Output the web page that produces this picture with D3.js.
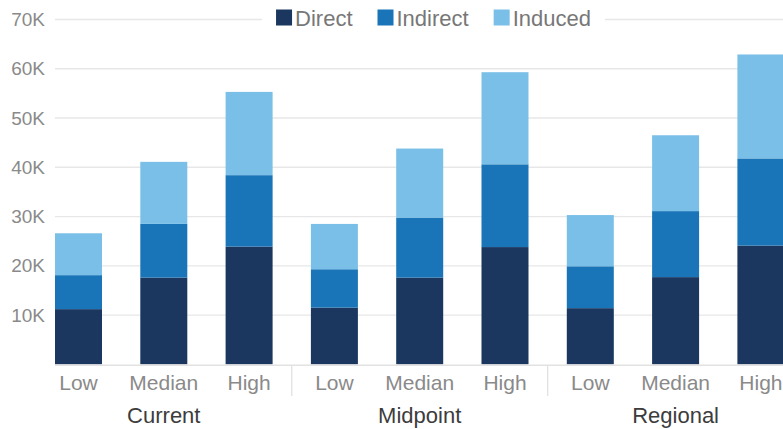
<!DOCTYPE html>
<html>
<head>
<meta charset="utf-8">
<script src="https://cdn.jsdelivr.net/npm/d3@7"></script>
<style>
  html, body { margin: 0; padding: 0; background: #fff; }
  svg { display: block; font-family: "Liberation Sans", Arial, Helvetica, sans-serif; }
</style>
</head>
<body>
<svg id="chart" width="783" height="429"></svg>
<script>
// Scenario groups and the three estimate levels within each
const groups = ["Current", "Midpoint", "Regional"];
const levels = ["Low", "Median", "High"];

// Impact components, one value per bar (Current L/M/H, Midpoint L/M/H, Regional L/M/H)
const direct   = [11200, 17600, 23900, 11500, 17600, 23800, 11400, 17700, 24100];
const indirect = [ 6900, 10900, 14500,  7800, 12200, 16800,  8500, 13400, 17700];
const induced  = [ 8500, 12600, 16900,  9200, 14000, 18700, 10400, 15400, 21100];

const seriesNames = ["Direct", "Indirect", "Induced"];
const seriesColors = ["#1b365f", "#1a75b8", "#7abfe7"];
const yTicks = [10000, 20000, 30000, 40000, 50000, 60000, 70000];

// Build rows for d3.stack
const rows = [];
groups.forEach((g, gi) => levels.forEach((l, li) => {
  const i = gi * levels.length + li;
  rows.push({ key: g + "|" + l, group: g, level: l,
              Direct: direct[i], Indirect: indirect[i], Induced: induced[i] });
}));

const svg = d3.select("#chart");
const plotLeft = 55, plotRight = 784.4, plotTop = 19.5, plotBottom = 364.3;

const x = d3.scaleBand()
  .domain(rows.map(d => d.key))
  .range([plotLeft, plotRight])
  .paddingInner(0.449)
  .paddingOuter(0);

const y = d3.scaleLinear().domain([0, 70000]).range([plotBottom, plotTop]);
const color = d3.scaleOrdinal().domain(seriesNames).range(seriesColors);

// Horizontal gridlines
svg.append("g").selectAll("line").data(yTicks).join("line")
  .attr("x1", plotLeft).attr("x2", 783)
  .attr("y1", d => y(d)).attr("y2", d => y(d))
  .attr("stroke", "#e7e7e7").attr("stroke-width", 1.3);

// Y axis labels
const yAxis = d3.axisLeft(y).tickValues(yTicks).tickSize(0).tickPadding(0)
  .tickFormat(d => (d / 1000) + "K");
svg.append("g").attr("transform", "translate(45,0)").call(yAxis)
  .call(g => g.select(".domain").remove())
  .selectAll("text")
  .attr("fill", "#8a8a8a").style("font-size", "19px")
  .style("font-family", "'Liberation Sans', Arial, sans-serif");

// Stacked bars
const stacked = d3.stack().keys(seriesNames)(rows);
svg.append("g").selectAll("g").data(stacked).join("g")
  .attr("fill", d => color(d.key))
  .selectAll("rect").data(d => d).join("rect")
  .attr("x", d => x(d.data.key))
  .attr("width", x.bandwidth())
  .attr("y", d => y(d[1]))
  .attr("height", d => y(d[0]) - y(d[1]));

// Baseline
svg.append("line")
  .attr("x1", plotLeft).attr("x2", 783)
  .attr("y1", plotBottom + 1).attr("y2", plotBottom + 1)
  .attr("stroke", "#e2e2e2").attr("stroke-width", 1.5);

// Level labels under each bar
svg.append("g").selectAll("text").data(rows).join("text")
  .attr("x", d => x(d.key) + x.bandwidth() / 2)
  .attr("y", 390)
  .attr("text-anchor", "middle")
  .attr("fill", "#8a8a8a")
  .style("font-size", "21px")
  .text(d => d.level);

// Group separators between scenario groups
const step = x.step();
const sepX = groups.slice(1).map(g => x(g + "|" + levels[0]) - (step - x.bandwidth()) / 2);
svg.append("g").selectAll("line").data(sepX).join("line")
  .attr("x1", d => d).attr("x2", d => d)
  .attr("y1", plotBottom + 1).attr("y2", 396)
  .attr("stroke", "#e2e2e2").attr("stroke-width", 1.3);

// Group labels centred under the middle bar
svg.append("g").selectAll("text").data(groups).join("text")
  .attr("x", g => x(g + "|" + levels[1]) + x.bandwidth() / 2)
  .attr("y", 423)
  .attr("text-anchor", "middle")
  .attr("fill", "#3c3c3c")
  .style("font-size", "22px")
  .text(g => g);

// Legend, centred at the top over the 70K gridline
const legend = svg.append("g");
const legendBg = legend.append("rect").attr("fill", "#fff");
const sw = 16, gapText = 3, gapItem = 25;
let cx = 0;
const offsets = [];
const items = legend.selectAll("g.item").data(seriesNames).join("g").attr("class", "item");
items.each(function (name) {
  const it = d3.select(this);
  it.append("rect").attr("x", 0).attr("y", 9.5).attr("width", sw).attr("height", sw)
    .attr("fill", color(name));
  const t = it.append("text").attr("x", sw + gapText).attr("y", 25.5)
    .attr("fill", "#777").style("font-size", "22px").text(name);
  const w = t.node().getComputedTextLength();
  offsets.push(cx);
  cx += sw + gapText + w + gapItem;
});
const totalW = cx - gapItem;
const legendX = 433.5 - totalW / 2;
items.attr("transform", (d, i) => `translate(${legendX + offsets[i]},0)`);
legendBg.attr("x", legendX - 14).attr("y", 6).attr("width", totalW + 28).attr("height", 26);
</script>
</body>
</html>
